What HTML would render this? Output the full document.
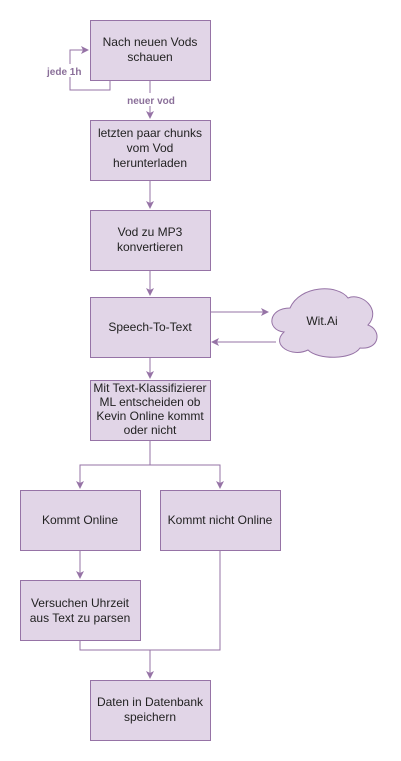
<!DOCTYPE html>
<html><head><meta charset="utf-8"><style>
html,body{margin:0;padding:0;background:#fff;}
svg{display:block;font-family:"Liberation Sans",Arial,sans-serif;}
</style></head><body>
<svg width="401" height="761" viewBox="0 0 401 761" xmlns="http://www.w3.org/2000/svg">
<defs>
<marker id="a" markerWidth="10" markerHeight="10" refX="7" refY="4" orient="auto" markerUnits="userSpaceOnUse">
<path d="M0,0 L8,4 L0,8 L2,4 Z" fill="#9673a6"/>
</marker>
</defs>
<g fill="none" stroke="#9673a6" stroke-width="1">
<path d="M110,80 V90 H70 V50 H88" marker-end="url(#a)"/>
<path d="M150,80 V118" marker-end="url(#a)"/>
<path d="M150,180 V208" marker-end="url(#a)"/>
<path d="M150,270 V295" marker-end="url(#a)"/>
<path d="M210,312 H268" marker-end="url(#a)"/>
<path d="M276,342 H212" marker-end="url(#a)"/>
<path d="M150,357 V378" marker-end="url(#a)"/>
<path d="M150,441 V465 H80 V488" marker-end="url(#a)"/>
<path d="M150,465 H220 V488" marker-end="url(#a)"/>
<path d="M80,550 V578" marker-end="url(#a)"/>
<path d="M80,640 V650 H220 V550"/>
<path d="M150,650 V678" marker-end="url(#a)"/>
</g>
<g fill="#e1d5e7" stroke="#9673a6" stroke-width="1">
<rect x="90.5" y="20.5" width="120" height="60"/>
<rect x="90.5" y="120.5" width="120" height="60"/>
<rect x="90.5" y="210.5" width="120" height="60"/>
<rect x="90.5" y="297.5" width="120" height="60"/>
<rect x="90.5" y="380.5" width="120" height="60"/>
<rect x="20.5" y="490.5" width="120" height="60"/>
<rect x="160.5" y="490.5" width="120" height="60"/>
<rect x="20.5" y="580.5" width="120" height="60"/>
<rect x="90.5" y="680.5" width="120" height="60"/>
<path d="M290,308 C268,308 266,330 284,332 C270,345 292,358 308,350 C318,360 352,360 360,348 C380,350 382,330 368,325 C382,310 362,292 348,298 C338,284 300,285 290,308 Z"/>
</g>
<g font-size="12" fill="#222" text-anchor="middle">
<text x="150" y="46">Nach neuen Vods</text>
<text x="150" y="61">schauen</text>
<text x="150" y="137">letzten paar chunks</text>
<text x="150" y="152">vom Vod</text>
<text x="150" y="167">herunterladen</text>
<text x="150" y="236">Vod zu MP3</text>
<text x="150" y="251">konvertieren</text>
<text x="150" y="331">Speech-To-Text</text>
<text x="150" y="392">Mit Text-Klassifizierer</text>
<text x="150" y="406">ML entscheiden ob</text>
<text x="150" y="420">Kevin Online kommt</text>
<text x="150" y="434">oder nicht</text>
<text x="80" y="524">Kommt Online</text>
<text x="220" y="524">Kommt nicht Online</text>
<text x="80" y="607">Versuchen Uhrzeit</text>
<text x="80" y="622">aus Text zu parsen</text>
<text x="150" y="706">Daten in Datenbank</text>
<text x="150" y="721">speichern</text>
<text x="322" y="325">Wit.Ai</text>
</g>
<g font-size="10" font-weight="bold" fill="#8a6f99">
<rect x="46" y="64" width="38" height="13" fill="#fff"/>
<text x="47" y="75">jede 1h</text>
<rect x="124" y="93" width="54" height="13" fill="#fff"/>
<text x="151" y="104" text-anchor="middle">neuer vod</text>
</g>
</svg>
</body></html>
